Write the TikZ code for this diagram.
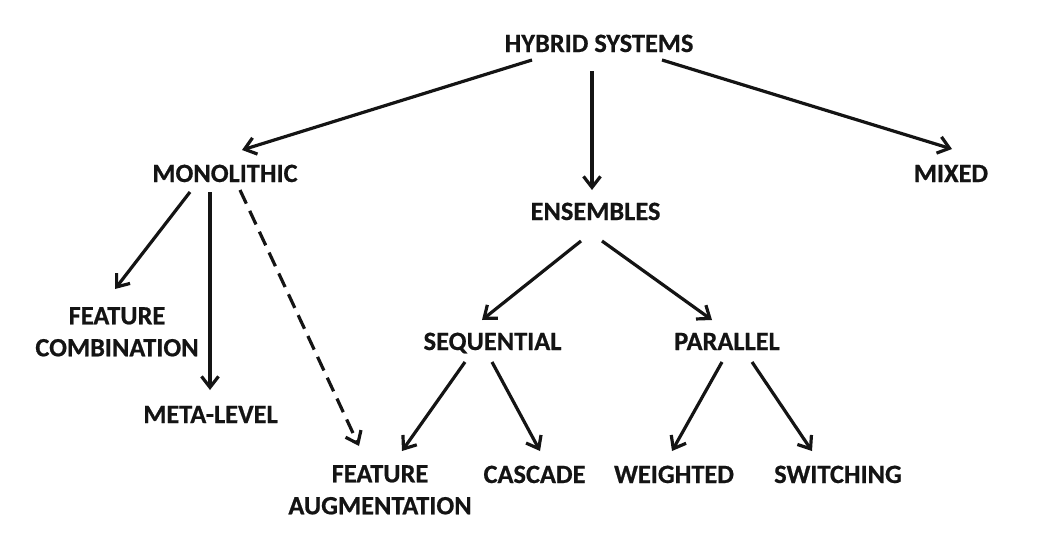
\documentclass[tikz,border=0pt]{standalone}
\usepackage{fontspec}
\setmainfont{Carlito}[BoldFeatures={FakeBold=0.6}]
\usetikzlibrary{arrows.meta}
\begin{document}
\begin{tikzpicture}[x=1pt,y=-1pt,
  lbl/.style={font=\fontsize{26.4}{32}\selectfont\bfseries, inner sep=0pt, anchor=base, text=black!92},
  mlbl/.style={lbl, anchor=north, align=center},
  conn/.style={draw=black!92, line width=3.2pt, -{Straight Barb[length=11pt,width=17pt]}},
  dconn/.style={conn, dash pattern=on 15pt off 8pt}]
\useasboundingbox (0,0) rectangle (1062,538);
% nodes
\node[lbl] (hs) at (599,52) {HYBRID SYSTEMS};
\node[lbl] (mono) at (225,182) {MONOLITHIC};
\node[lbl] (mixed) at (951,182) {MIXED};
\node[lbl] (ens) at (595.5,220) {ENSEMBLES};
\node[lbl] (seq) at (492.5,350) {SEQUENTIAL};
\node[lbl] (par) at (727,350) {PARALLEL};
\node[mlbl] (fc) at (117,307) {FEATURE\\COMBINATION};
\node[lbl] (ml) at (210.5,423) {META-LEVEL};
\node[mlbl] (fa) at (380,465) {FEATURE\\AUGMENTATION};
\node[lbl] (cas) at (534.5,483) {CASCADE};
\node[lbl] (wei) at (674,483) {WEIGHTED};
\node[lbl] (sw) at (838,483) {SWITCHING};
% connectors
\draw[conn] ([shift={(-67,8)}]hs.base) -- ([shift={(17,-32)}]mono.base);
\draw[conn] ([shift={(-7,19)}]hs.base) -- ([shift={(-3.5,-30)}]ens.base);
\draw[conn] ([shift={(63,8)}]hs.base) -- ([shift={(1,-33)}]mixed.base);
\draw[conn] ([shift={(-35,10)}]mono.base) -- ([shift={(-2,-18)}]fc.north);
\draw[conn] ([shift={(-15,10)}]mono.base) -- ([shift={(-15,-33)}]mono.base |- ml.base);
\draw[dconn] ([shift={(15,8)}]mono.base) -- ([shift={(-21,-19)}]fa.north);
\draw[conn] ([shift={(-14.5,21)}]ens.base) -- ([shift={(-10.5,-30)}]seq.base);
\draw[conn] ([shift={(6.5,21)}]ens.base) -- ([shift={(-15,-30)}]par.base);
\draw[conn] ([shift={(-27.5,12)}]seq.base) -- ([shift={(22,-14)}]fa.north);
\draw[conn] ([shift={(-0.5,12)}]seq.base) -- ([shift={(5.5,-32)}]cas.base);
\draw[conn] ([shift={(-5,12)}]par.base) -- ([shift={(-2,-32)}]wei.base);
\draw[conn] ([shift={(25,12)}]par.base) -- ([shift={(-26,-32)}]sw.base);
\end{tikzpicture}
\end{document}
